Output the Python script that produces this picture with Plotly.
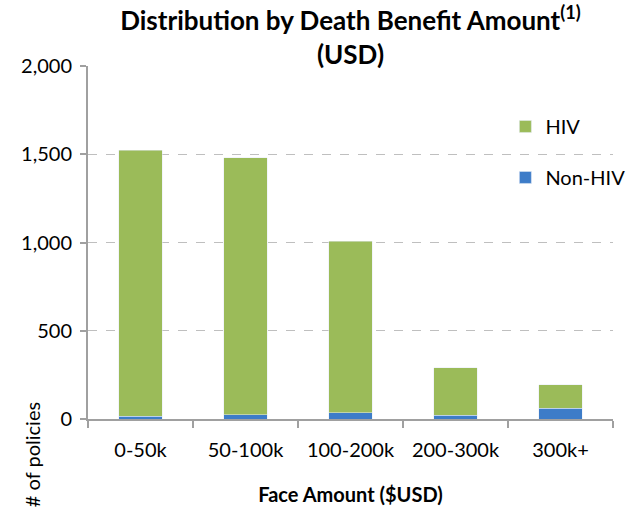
import plotly.graph_objects as go

categories = ["0-50k", "50-100k", "100-200k", "200-300k", "300k+"]
non_hiv = [17, 25, 35, 20, 62]
hiv = [1507, 1454, 973, 269, 131]
y_ticks = [0, 500, 1000, 1500, 2000]
y_tick_labels = ["0", "500", "1,000", "1,500", "2,000"]

FONT = "Lato, Carlito, 'Open Sans', sans-serif"

fig = go.Figure()
fig.add_trace(go.Bar(x=categories, y=non_hiv, name="Non-HIV", marker_color="#3D7CC8",
                     legendgroup="b", legendrank=2))
fig.add_trace(go.Bar(x=categories, y=hiv, name="HIV", marker_color="#9BBB59",
                     legendgroup="a", legendrank=1))

fig.update_layout(
    width=642, height=515,
    barmode="stack", bargap=0.59,
    plot_bgcolor="white", paper_bgcolor="white",
    margin=dict(l=88, r=27, t=66, b=96),
    font=dict(family=FONT, size=20, color="#000000"),
    title=dict(text="<b>Distribution by Death Benefit Amount<sup>(1)</sup><br>(USD)</b>",
               x=0.5, xanchor="center", xref="paper",
               y=0.942, yanchor="middle", yref="container",
               font=dict(size=26, family=FONT)),
    legend=dict(x=0.795, y=0.884, xanchor="left", yanchor="top",
                traceorder="grouped", tracegroupgap=22,
                font=dict(size=20, family=FONT), bgcolor="rgba(0,0,0,0)"),
    showlegend=True,
)
fig.update_xaxes(showline=True, linecolor="#A0A0A0", linewidth=2,
                 ticks="outside", tickson="boundaries", ticklen=7, tickcolor="#A0A0A0",
                 tickwidth=2, tickfont=dict(size=20), ticklabelstandoff=12,
                 title=dict(text="<b>Face Amount ($USD)</b>", font=dict(size=20), standoff=28))
fig.update_yaxes(range=[0, 2000], tickvals=y_ticks, ticktext=y_tick_labels,
                 showline=True, linecolor="#A0A0A0", linewidth=2,
                 ticks="outside", ticklen=6, tickcolor="#A0A0A0", tickwidth=2,
                 ticklabelstandoff=4,
                 showgrid=True, gridcolor="#BFBFBF", griddash="dash", gridwidth=1,
                 zeroline=False, tickfont=dict(size=20))
fig.add_annotation(text="# of policies", textangle=-90, xref="paper", yref="paper",
                   x=-0.107, y=-0.1, xanchor="center", yanchor="middle",
                   showarrow=False, font=dict(size=20, family=FONT))
fig.write_html("out.html", config={"displayModeBar": False},
               post_script="document.body.style.margin='0px';")
